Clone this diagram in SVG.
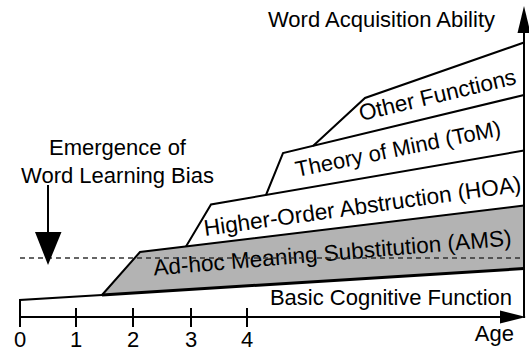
<svg xmlns="http://www.w3.org/2000/svg" width="529" height="352" viewBox="0 0 529 352">
<style>
text{font-family:"Liberation Sans",Arial,sans-serif;font-size:22px;fill:#000}
.big{font-size:22.6px}
.ln{fill:none;stroke:#000;stroke-width:2;stroke-linejoin:miter}
.ah{fill:#000;stroke:none}
</style>
<rect width="529" height="352" fill="#fff"/>
<g id="layer-ams">
<polygon points="102,295 140,252 524,205.5 524,268.5" fill="#b3b3b3" stroke="none"/>
<path class="ln" d="M102,295 L140,252 L524,205.5"/>
<text class="big" transform="translate(154,275.5) rotate(-4.8)">Ad-hoc Meaning Substitution (AMS)</text>
</g>
<g id="connectors">
<line x1="20" y1="258" x2="524" y2="258" stroke="#333" stroke-width="1.3" stroke-dasharray="5 4"/>
<line class="ln" x1="20" y1="317" x2="502" y2="317"/>
<polygon class="ah" points="526,317 500,310.5 500,323.5"/>
<line class="ln" x1="524" y1="318" x2="524" y2="28"/>
<polygon class="ah" points="524,6 517.5,33 530.5,33"/>
<line class="ln" x1="48" y1="185" x2="48" y2="236"/>
<polygon class="ah" points="35,232 61.5,232 48,265"/>
<path class="ln" d="M76,308V327M133,308V327M191,308V327M247,308V327"/>
</g>
<g id="layer-basic">
<path class="ln" d="M20,327 L20,300 L102,295"/>
<line x1="102" y1="295" x2="524" y2="268.5" stroke="#000" stroke-width="3"/>
<text x="512" y="305" text-anchor="end">Basic Cognitive Function</text>
</g>
<g id="layer-hoa">
<path class="ln" d="M186,246.5 L211,204.5 L524,150.5"/>
<text class="big" transform="translate(205,236) rotate(-8)">Higher-Order Abstruction (HOA)</text>
</g>
<g id="layer-tom">
<path class="ln" d="M266,195 L283,153 L524,95"/>
<text transform="translate(297,177) rotate(-11.5)">Theory of Mind (ToM)</text>
</g>
<g id="layer-other">
<path class="ln" d="M313,146 L365,98 L524,42.5"/>
<text class="big" transform="translate(361,121) rotate(-13.4)">Other Functions</text>
</g>
<g id="labels">
<text x="495" y="27" text-anchor="end">Word Acquisition Ability</text>
<text x="117.5" y="155" text-anchor="middle">Emergence of</text>
<text x="117.5" y="183" text-anchor="middle">Word Learning Bias</text>
<text x="514" y="341" text-anchor="end">Age</text>
<text x="20" y="347" text-anchor="middle">0</text>
<text x="76" y="347" text-anchor="middle">1</text>
<text x="133" y="347" text-anchor="middle">2</text>
<text x="191" y="347" text-anchor="middle">3</text>
<text x="247" y="347" text-anchor="middle">4</text>
</g>
</svg>
